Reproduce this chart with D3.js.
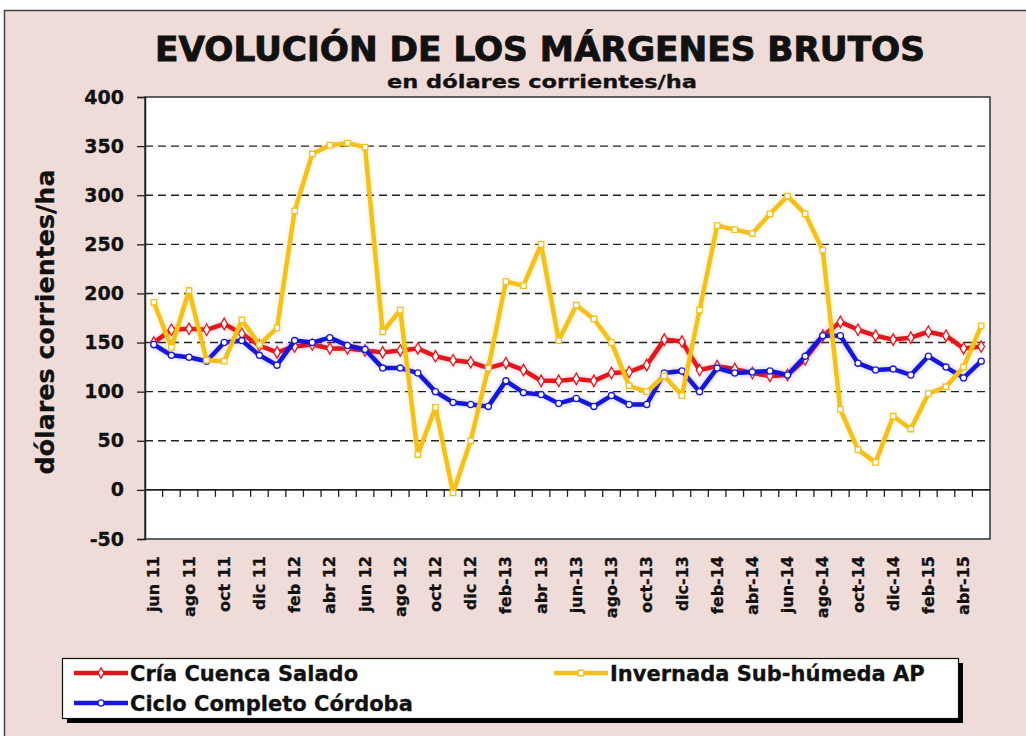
<!DOCTYPE html>
<meta charset="utf-8">
<style>
body { margin: 0; background: #fff; }
.tick text, .lbl { font-family: "DejaVu Sans", Verdana, sans-serif; font-weight: bold; fill: #111; stroke: #111; stroke-width: 0.3px; }
.grid { stroke: #222; stroke-width: 1.4px; stroke-dasharray: 8,5; }
</style>
<body>
<script src="https://d3js.org/d3.v7.min.js"></script>
<script>
const width = 1026;
const height = 736;

// months (only every other one is labelled)
const months = ["jun 11","jul 11","ago 11","sep 11","oct 11","nov 11","dic 11","ene 12",
  "feb 12","mar 12","abr 12","may 12","jun 12","jul 12","ago 12","sep 12","oct 12","nov 12",
  "dic 12","ene-13","feb-13","mar-13","abr 13","may-13","jun-13","jul-13","ago-13","sep-13",
  "oct-13","nov-13","dic-13","ene-14","feb-14","mar-14","abr-14","may-14","jun-14","jul-14",
  "ago-14","sep-14","oct-14","nov-14","dic-14","ene-15","feb-15","mar-15","abr-15","may-15"];

const cria = [150,163,164,163,169,159,147,140,146,148,144,144,142,140,142,144,136,132,130,124,
  129,122,111,111,113,111,119,120,127,153,151,122,126,123,119,116,117,133,157,171,
  163,157,153,155,161,157,144,146];
const invernada = [191,145,203,132,131,173,148,165,284,342,351,353,349,161,183,36,84,-3,50,124,
  212,208,250,152,188,174,150,106,100,116,96,183,269,265,261,281,299,281,244,82,
  41,28,75,62,98,105,125,167];
const ciclo = [148,137,135,131,150,152,137,127,152,150,155,147,143,124,124,119,100,89,87,85,
  111,99,97,88,93,85,96,87,87,119,121,100,124,119,120,121,117,136,157,157,
  129,122,123,117,136,125,114,131];

const yTicks = [-50,0,50,100,150,200,250,300,350,400];

const series = [
  {name: "Cría Cuenca Salado", values: cria, color: "#e3141e", shape: d3.symbolDiamond},
  {name: "Ciclo Completo Córdoba", values: ciclo, color: "#1818d8", shape: d3.symbolCircle},
  {name: "Invernada Sub-húmeda AP", values: invernada, color: "#f4c01a", shape: d3.symbolSquare}
];

const svg = d3.select('body')
  .append('svg')
  .attr('width', width)
  .attr('height', height);

const defs = svg.append('defs');
const glow = defs.append('filter').attr('id', 'glow')
  .attr('x', '-10%').attr('y', '-10%').attr('width', '120%').attr('height', '120%');
glow.append('feGaussianBlur').attr('in', 'SourceGraphic').attr('stdDeviation', 2.5).attr('result', 'b');
glow.append('feComponentTransfer').attr('in', 'b').attr('result', 'b2')
  .append('feFuncA').attr('type', 'linear').attr('slope', 0.3);
const merge = glow.append('feMerge');
merge.append('feMergeNode').attr('in', 'b2');
merge.append('feMergeNode').attr('in', 'SourceGraphic');

// outer frame
svg.append('rect')
  .attr('x', 4.5).attr('y', 10.5)
  .attr('width', 1040).attr('height', 740)
  .attr('fill', '#efdcd8')
  .attr('stroke', '#444').attr('stroke-width', 1.5);

const x = d3.scaleBand().domain(months).range([145, 990]);
const y = d3.scaleLinear().domain([-50, 400]).range([539, 97]);

// plot area
svg.append('rect')
  .attr('x', 145).attr('y', 97)
  .attr('width', 845).attr('height', 442)
  .attr('fill', '#fff')
  .attr('stroke', '#333').attr('stroke-width', 1.5);

// dashed grid
svg.append('g')
  .selectAll('line')
  .data(yTicks.filter(d => d > 0 && d < 400))
  .enter().append('line')
    .attr('class', 'grid')
    .attr('x1', 145).attr('x2', 990)
    .attr('y1', d => y(d)).attr('y2', d => y(d));

// y axis
const yAxis = svg.append('g')
  .attr('transform', 'translate(145,0)')
  .call(d3.axisLeft(y).tickValues(yTicks).tickFormat(d => String(d)).tickSize(8).tickPadding(13));
yAxis.select('.domain').attr('stroke', '#222').attr('stroke-width', 1.5);
yAxis.selectAll('.tick line').attr('stroke', '#222').attr('stroke-width', 1.3);
yAxis.selectAll('.tick text').style('font-size', '19px').attr('fill', '#111');

// x axis on zero line
svg.append('line')
  .attr('x1', 145).attr('x2', 990)
  .attr('y1', y(0)).attr('y2', y(0))
  .attr('stroke', '#222').attr('stroke-width', 1.6);

svg.append('g')
  .selectAll('line')
  .data(months.slice(1))
  .enter().append('line')
    .attr('x1', d => x(d)).attr('x2', d => x(d))
    .attr('y1', y(0)).attr('y2', y(0) + 7)
    .attr('stroke', '#222').attr('stroke-width', 1.3);

svg.append('g')
  .selectAll('text')
  .data(months.filter((d, i) => i % 2 === 0))
  .enter().append('text')
    .attr('class', 'lbl')
    .attr('transform', d => 'translate(' + (x(d) + x.bandwidth() / 2) + ',556) rotate(-90)')
    .attr('dy', '0.35em')
    .attr('text-anchor', 'end')
    .style('font-size', '16px')
    .text(d => d);

// lines
const line = d3.line()
  .x((d, i) => x(months[i]) + x.bandwidth() / 2)
  .y(d => y(d));

series.forEach(function (s) {
  const g = svg.append('g').attr('filter', 'url(#glow)');
  g.append('path')
    .datum(s.values)
    .attr('d', line)
    .attr('fill', 'none')
    .attr('stroke', s.color)
    .attr('stroke-width', 4.5)
    .attr('stroke-linejoin', 'round');
  g.selectAll('path.mk')
    .data(s.values)
    .enter().append('path')
      .attr('class', 'mk')
      .attr('d', d3.symbol().type(s.shape).size(s.shape === d3.symbolDiamond ? 38 : 30))
      .attr('transform', (d, i) => 'translate(' + (x(months[i]) + x.bandwidth() / 2) + ',' + y(d) + ')')
      .attr('fill', '#fff')
      .attr('stroke', s.color)
      .attr('stroke-width', 1.3);
});

// titles
svg.append('text')
  .attr('class', 'lbl')
  .attr('x', 540).attr('y', 61)
  .attr('text-anchor', 'middle')
  .attr('textLength', 770).attr('lengthAdjust', 'spacingAndGlyphs')
  .style('font-family', '"DejaVu Sans Condensed", "DejaVu Sans", sans-serif')
  .style('font-size', '33px')
  .style('stroke-width', '0.8px')
  .text('EVOLUCIÓN DE LOS MÁRGENES BRUTOS');

svg.append('text')
  .attr('class', 'lbl')
  .attr('x', 542).attr('y', 88)
  .attr('text-anchor', 'middle')
  .attr('textLength', 310).attr('lengthAdjust', 'spacingAndGlyphs')
  .style('font-size', '18px')
  .text('en dólares corrientes/ha');

svg.append('text')
  .attr('class', 'lbl')
  .attr('transform', 'translate(46,322) rotate(-90)')
  .attr('text-anchor', 'middle')
  .attr('dy', '0.35em')
  .attr('textLength', 305).attr('lengthAdjust', 'spacingAndGlyphs')
  .style('font-size', '24px')
  .text('dólares corrientes/ha');

// legend
const legendRows = [
  {s: series[0], lx: 74, ly: 673},
  {s: series[2], lx: 554, ly: 673},
  {s: series[1], lx: 74, ly: 703}
];

svg.append('rect')
  .attr('x', 67).attr('y', 663)
  .attr('width', 896).attr('height', 60)
  .attr('fill', '#000');
svg.append('rect')
  .attr('x', 62.5).attr('y', 658.5)
  .attr('width', 896).attr('height', 60)
  .attr('fill', '#fff')
  .attr('stroke', '#111').attr('stroke-width', 1.2);

const leg = svg.append('g')
  .selectAll('g')
  .data(legendRows)
  .enter().append('g')
    .attr('transform', d => 'translate(' + d.lx + ',' + d.ly + ')');

leg.append('line')
  .attr('x1', 0).attr('x2', 54)
  .attr('stroke', d => d.s.color)
  .attr('stroke-width', 4.5);
leg.append('path')
  .attr('d', d => d3.symbol().type(d.s.shape).size(30)())
  .attr('transform', 'translate(27,0)')
  .attr('fill', '#fff')
  .attr('stroke', d => d.s.color)
  .attr('stroke-width', 1.3);
leg.append('text')
  .attr('class', 'lbl')
  .attr('x', 56)
  .attr('dy', '0.36em')
  .style('font-size', '21px')
  .text(d => d.s.name);
</script>
</body>
